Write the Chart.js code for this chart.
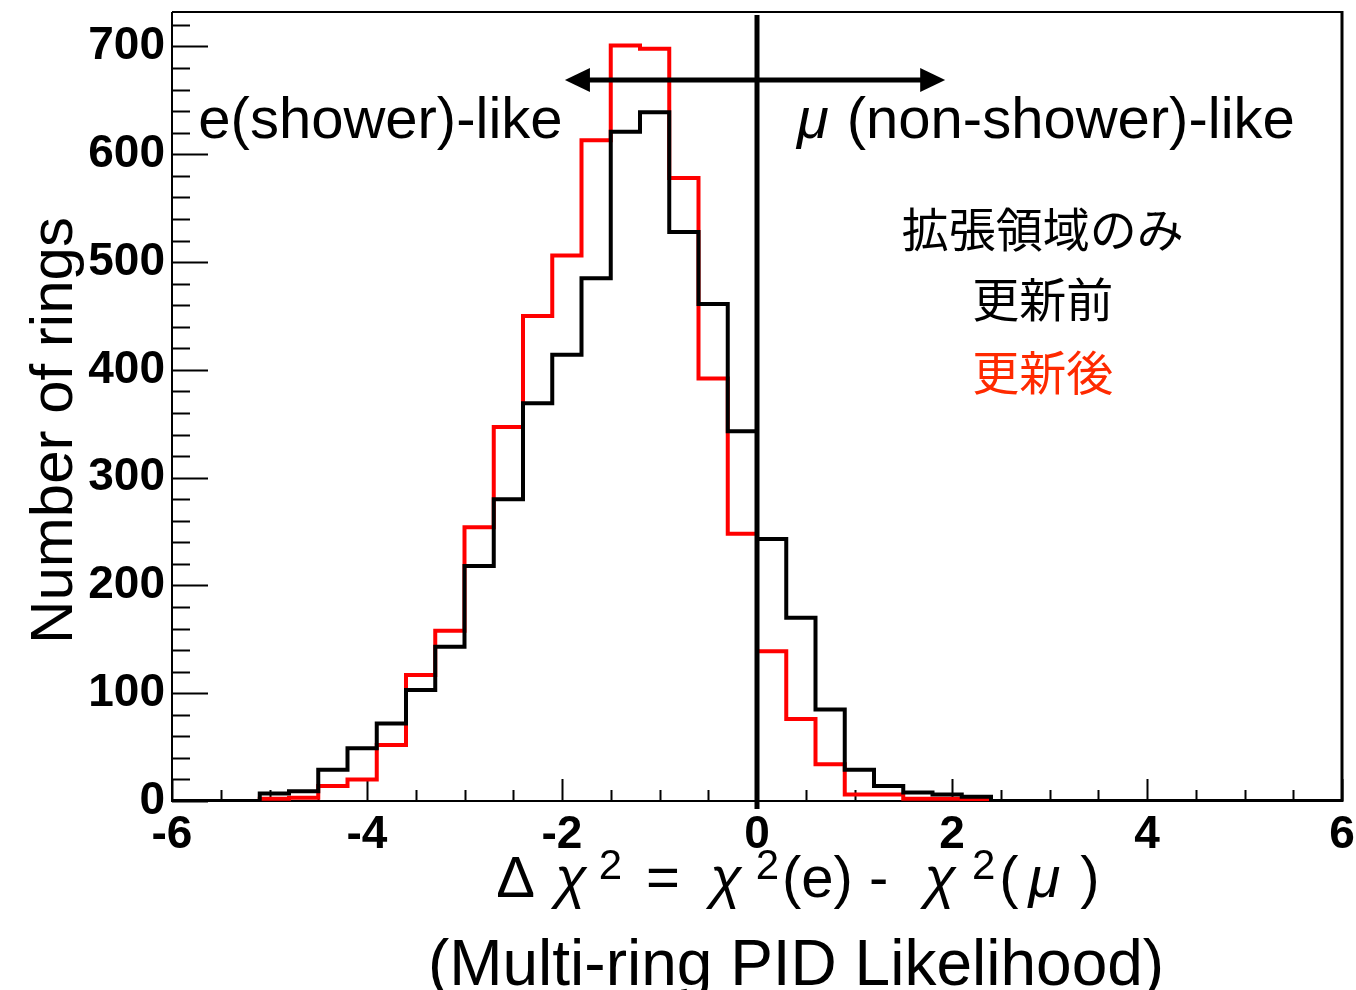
<!DOCTYPE html>
<html lang="ja">
<head>
<meta charset="utf-8">
<title>Multi-ring PID Likelihood</title>
<script src="https://cdn.jsdelivr.net/npm/chart.js@4.4.1/dist/chart.umd.min.js"></script>
<style>
  html, body { margin: 0; padding: 0; background: #ffffff; }
  #wrap { width: 1356px; height: 990px; }
</style>
</head>
<body>
<div id="wrap"><canvas id="c" width="1356" height="990"></canvas></div>
<script>
// Histogram binning: 40 bins of width 0.3 from -6 to 6
const binLow = -6;
const binWidth = 0.3;

// Ring counts per bin, before the update (更新前)
const countsBefore = [
  0, 0, 0, 7, 9, 29, 49, 72, 103, 143,
  218, 280, 369, 414, 485, 621, 639, 528, 461, 343,
  243, 170, 85, 29, 14, 8, 6, 4, 0, 0,
  0, 0, 0, 0, 0, 0, 0, 0, 0, 0
];

// Ring counts per bin, after the update (更新後)
const countsAfter = [
  0, 0, 0, 2, 3, 14, 20, 52, 117, 158,
  254, 347, 450, 506, 613, 701, 698, 578, 392, 248,
  139, 76, 34, 6, 6, 2, 2, 1, 0, 0,
  0, 0, 0, 0, 0, 0, 0, 0, 0, 0
];

// Axis ranges and tick spacing
const xRange = [-6, 6];
const yRange = [0, 732];
const xMajorStep = 2, xMinorStep = 0.5;
const yMajorStep = 100, yMinorStep = 20;

// Annotations (data coordinates)
const cutValue = 0;                 // e / mu separation
const arrowSpan = [-1.97, 1.93];    // double arrow extent
const arrowLevel = 669;
const sideLabels = [
  { text: 'e(shower)-like', x: -5.73, y: 615 },
  { text: '(non-shower)-like', x: 0.41, y: 615, greek: 'μ' }
];
const legendLines = [
  { text: '拡張領域のみ', x: 2.93, y: 531, color: '#000000' },
  { text: '更新前', x: 2.93, y: 466, color: '#000000' },
  { text: '更新後', x: 2.93, y: 398, color: '#ff2a00' }
];

function toSteps(counts) {
  const pts = counts.map((v, i) => ({ x: +(binLow + i * binWidth).toFixed(2), y: v }));
  pts.push({ x: +(binLow + counts.length * binWidth).toFixed(2), y: counts[counts.length - 1] });
  return pts;
}

const SANS = '"Liberation Sans", Arial, Helvetica, sans-serif';
const CJK = '"Noto Sans CJK JP", "Noto Sans", sans-serif';

// Frame and inward ticks in the ROOT style
const frameTicks = {
  id: 'frameTicks',
  beforeDatasetsDraw(chart) {
    const { ctx, chartArea: a, scales: { x, y } } = chart;
    ctx.save();
    ctx.strokeStyle = '#000';
    ctx.lineWidth = 2;
    // y ticks
    for (let v = yRange[0]; v <= yRange[1] + 1e-9; v += yMinorStep) {
      const py = Math.round(y.getPixelForValue(v)) + 0.5;
      const major = Math.abs(v / yMajorStep - Math.round(v / yMajorStep)) < 1e-6;
      ctx.beginPath();
      ctx.moveTo(a.left, py);
      ctx.lineTo(a.left + (major ? 36 : 18), py);
      ctx.stroke();
    }
    // x ticks
    for (let v = xRange[0]; v <= xRange[1] + 1e-9; v += xMinorStep) {
      const px = Math.round(x.getPixelForValue(v)) + 0.5;
      const major = Math.abs(v / xMajorStep - Math.round(v / xMajorStep)) < 1e-6;
      ctx.beginPath();
      ctx.moveTo(px, a.bottom);
      ctx.lineTo(px, a.bottom - (major ? 22 : 11));
      ctx.stroke();
    }
    // frame
    ctx.beginPath();
    ctx.moveTo(a.left, a.top);
    ctx.lineTo(a.right, a.top);
    ctx.moveTo(a.left, a.top);
    ctx.lineTo(a.left, a.bottom);
    ctx.lineTo(a.right, a.bottom);
    ctx.stroke();
    ctx.lineWidth = 3;
    ctx.beginPath();
    ctx.moveTo(a.right, a.top - 1);
    ctx.lineTo(a.right, a.bottom + 1);
    ctx.stroke();
    ctx.restore();
  }
};

// Cut line, arrow, labels and axis titles
const overlays = {
  id: 'overlays',
  afterDatasetsDraw(chart) {
    const { ctx, chartArea: a, scales: { x, y } } = chart;
    ctx.save();
    ctx.strokeStyle = '#000';
    ctx.fillStyle = '#000';

    // cut line
    const cx = x.getPixelForValue(cutValue);
    ctx.lineWidth = 5;
    ctx.beginPath();
    ctx.moveTo(cx, a.top + 3);
    ctx.lineTo(cx, a.bottom + 8);
    ctx.stroke();

    // double arrow
    const ay = y.getPixelForValue(arrowLevel);
    const ax0 = x.getPixelForValue(arrowSpan[0]);
    const ax1 = x.getPixelForValue(arrowSpan[1]);
    const head = 25, half = 12;
    ctx.lineWidth = 5;
    ctx.beginPath();
    ctx.moveTo(ax0 + head - 2, ay);
    ctx.lineTo(ax1 - head + 2, ay);
    ctx.stroke();
    ctx.beginPath();
    ctx.moveTo(ax0, ay);
    ctx.lineTo(ax0 + head, ay - half);
    ctx.lineTo(ax0 + head, ay + half);
    ctx.closePath();
    ctx.fill();
    ctx.beginPath();
    ctx.moveTo(ax1, ay);
    ctx.lineTo(ax1 - head, ay - half);
    ctx.lineTo(ax1 - head, ay + half);
    ctx.closePath();
    ctx.fill();

    // e-like / mu-like labels
    ctx.textBaseline = 'alphabetic';
    ctx.textAlign = 'left';
    sideLabels.forEach(l => {
      let px = x.getPixelForValue(l.x);
      const py = y.getPixelForValue(l.y);
      if (l.greek) {
        ctx.font = 'italic 58px ' + SANS;
        ctx.fillText(l.greek, px, py);
        px += ctx.measureText(l.greek).width + 18;
      }
      ctx.font = '58px ' + SANS;
      ctx.fillText(l.text, px, py);
    });

    // legend text
    ctx.textAlign = 'center';
    ctx.textBaseline = 'middle';
    ctx.font = '47px ' + CJK;
    legendLines.forEach(l => {
      ctx.fillStyle = l.color;
      ctx.fillText(l.text, x.getPixelForValue(l.x), y.getPixelForValue(l.y));
    });
    ctx.fillStyle = '#000';

    // y-axis title
    ctx.save();
    ctx.translate(a.left - 100, (a.top + a.bottom) / 2 + 24);
    ctx.rotate(-Math.PI / 2);
    ctx.textAlign = 'center';
    ctx.textBaseline = 'alphabetic';
    ctx.font = '60px ' + SANS;
    ctx.fillText('Number of rings', 0, 0);
    ctx.restore();

    // x-axis title, first line: Δχ² = χ²(e) - χ²(μ)
    const segs = [
      { t: 'Δ', s: 'n' }, { g: 20 },
      { t: 'χ', s: 'i' }, { g: 12 }, { t: '2', s: 'u' }, { g: 24 },
      { t: '=', s: 'n' }, { g: 30 },
      { t: 'χ', s: 'i' }, { g: 14 }, { t: '2', s: 'u' }, { g: 3 },
      { t: '(e)', s: 'n' }, { g: 16 }, { t: '-', s: 'n' }, { g: 36 },
      { t: 'χ', s: 'i' }, { g: 16 }, { t: '2', s: 'u' }, { g: 4 },
      { t: '(', s: 'n' }, { g: 10 }, { t: 'μ', s: 'i' }, { g: 20 }, { t: ')', s: 'n' }
    ];
    const fontFor = s => s === 'i' ? 'italic 58px ' + SANS : (s === 'u' ? '42px ' + SANS : '58px ' + SANS);
    let total = 0;
    segs.forEach(sg => {
      if (sg.g !== undefined) { total += sg.g; return; }
      ctx.font = fontFor(sg.s);
      total += ctx.measureText(sg.t).width;
    });
    const mid = (a.left + a.right) / 2 + 41;
    let tx = mid - total / 2;
    const base1 = a.bottom + 96;
    ctx.textAlign = 'left';
    ctx.textBaseline = 'alphabetic';
    segs.forEach(sg => {
      if (sg.g !== undefined) { tx += sg.g; return; }
      ctx.font = fontFor(sg.s);
      ctx.fillText(sg.t, tx, sg.s === 'u' ? base1 - 18 : base1);
      tx += ctx.measureText(sg.t).width;
    });

    // x-axis title, second line
    ctx.textAlign = 'center';
    ctx.font = '64px ' + SANS;
    ctx.fillText('(Multi-ring PID Likelihood)', mid - 2, a.bottom + 184);
    ctx.restore();
  }
};

new Chart(document.getElementById('c'), {
  type: 'line',
  data: {
    datasets: [
      {
        label: '更新前',
        data: toSteps(countsBefore),
        borderColor: '#000000',
        borderWidth: 4,
        stepped: 'before',
        pointRadius: 0,
        fill: false
      },
      {
        label: '更新後',
        data: toSteps(countsAfter),
        borderColor: '#ff0000',
        borderWidth: 4,
        stepped: 'before',
        pointRadius: 0,
        fill: false
      }
    ]
  },
  options: {
    responsive: false,
    devicePixelRatio: 1,
    animation: false,
    events: [],
    layout: { padding: { top: 12, right: 14, left: 0, bottom: 0 } },
    plugins: { legend: { display: false }, tooltip: { enabled: false } },
    scales: {
      x: {
        type: 'linear',
        min: xRange[0],
        max: xRange[1],
        grid: { display: false, drawTicks: false },
        border: { display: false },
        ticks: {
          stepSize: xMajorStep,
          autoSkip: false,
          maxRotation: 0,
          padding: 7,
          color: '#000',
          font: { family: SANS, size: 46, weight: 'bold' }
        },
        afterFit(s) { s.height = 189; s.paddingLeft = 0; s.paddingRight = 0; }
      },
      y: {
        type: 'linear',
        min: yRange[0],
        max: yRange[1],
        grid: { display: false, drawTicks: false },
        border: { display: false },
        ticks: {
          stepSize: yMajorStep,
          includeBounds: false,
          padding: 7,
          color: '#000',
          font: { family: SANS, size: 46, weight: 'bold' }
        },
        afterFit(s) { s.width = 172; s.paddingTop = 0; s.paddingBottom = 0; }
      }
    }
  },
  plugins: [frameTicks, overlays]
});
</script>
</body>
</html>
